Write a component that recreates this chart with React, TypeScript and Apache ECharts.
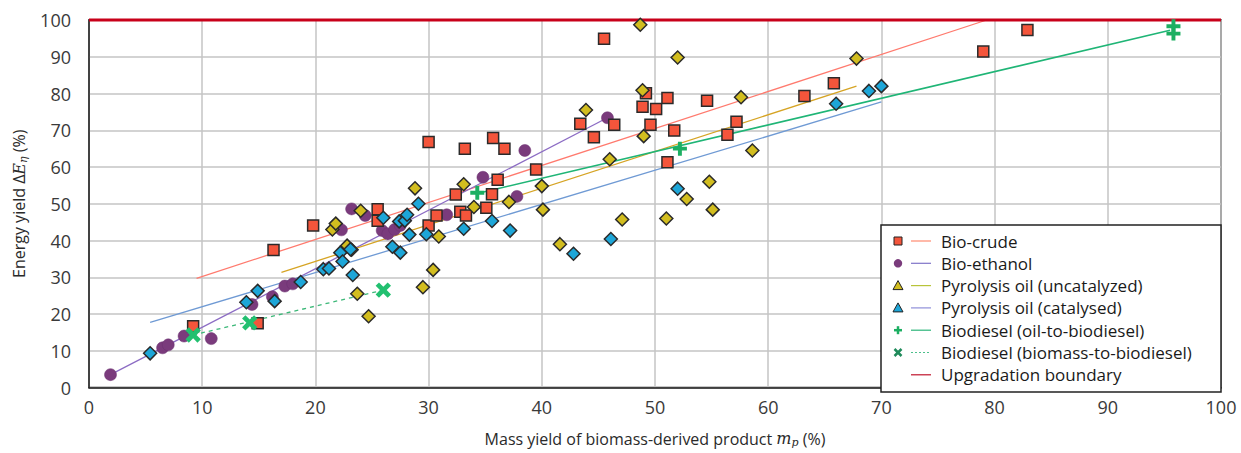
import React, { useEffect, useRef } from "react";
import * as echarts from "echarts";

// ---- data (mass yield %, energy yield %) ----
const bioCrude: number[][] = [
  [9.2, 16.7], [14.9, 17.5], [16.3, 37.4], [19.8, 44.1], [25.5, 48.5], [25.5, 45.4],
  [30, 44.1], [30, 66.8], [30.7, 46.8], [32.4, 52.5], [32.8, 47.8], [33.3, 46.8],
  [33.2, 65], [35.1, 48.9], [35.6, 52.6], [35.7, 67.9], [36.1, 56.5], [36.7, 65],
  [39.5, 59.3], [43.4, 71.8], [44.6, 68.1], [45.5, 94.9], [46.4, 71.5], [48.9, 76.4],
  [49.2, 80.1], [49.6, 71.5], [50.1, 75.8], [51.1, 78.8], [51.1, 61.3], [51.7, 69.9],
  [54.6, 78], [56.4, 68.8], [57.2, 72.3], [63.2, 79.3], [65.8, 82.8], [79, 91.4], [82.9, 97.3],
];
const bioEthanol: number[][] = [
  [1.9, 3.5], [6.5, 10.8], [7, 11.6], [8.4, 14], [10.8, 13.3], [14.4, 22.6], [16.2, 24.7],
  [17.3, 27.6], [18, 28.2], [22.3, 42.9], [23.2, 48.6], [24.4, 46.8], [25.9, 42.7],
  [26.4, 41.8], [27, 43], [27.5, 44.1], [31.6, 47], [34.8, 57.2], [37.8, 52], [38.5, 64.5],
  [45.8, 73.4],
];
const pyroUncat: number[][] = [
  [21.5, 43], [21.8, 44.6], [22.8, 38.6], [23.2, 37.5], [23.7, 25.5], [24, 48.1], [24.7, 19.4],
  [28.8, 54.2], [29.5, 27.3], [30.4, 32], [30.9, 41.1], [33.1, 55.3], [34, 49.1], [37.1, 50.5],
  [40, 54.8], [40.1, 48.4], [41.6, 39], [43.9, 75.5], [46, 62.1], [47.1, 45.7], [48.7, 98.7],
  [48.9, 80.9], [49, 68.4], [51, 46], [52, 89.8], [52.8, 51.3], [54.8, 56], [55.1, 48.4],
  [57.6, 79], [58.6, 64.5], [67.8, 89.5],
];
const pyroCat: number[][] = [
  [5.4, 9.3], [13.9, 23.2], [14.9, 26.3], [16.4, 23.5], [18.7, 28.7], [20.7, 32.2], [21.2, 32.4],
  [22.2, 36.7], [22.4, 34.3], [23.1, 37.6], [23.3, 30.6], [26, 46.2], [26.8, 38.3], [27.5, 36.7],
  [27.4, 45.2], [27.9, 45.4], [28.1, 47], [28.3, 41.6], [29.1, 50], [29.8, 41.7], [33.1, 43.2],
  [35.6, 45.3], [37.2, 42.7], [42.8, 36.4], [46.1, 40.4], [52, 54.1], [66, 77.2], [68.9, 80.7],
  [70, 82],
];
const biodieselOil: number[][] = [[34.3, 53], [52.2, 65], [95.8, 98.3], [95.8, 96.3]];
const biodieselBiomass: number[][] = [[9.2, 14.3], [14.2, 17.6], [26, 26.5]];

// ---- trend lines ----
const bioCrudeTrend: number[][] = [[9.5, 29.7], [79.3, 100]];
const bioEthanolTrend: number[][] = [[1.9, 3.5], [45.8, 73.4]];
const pyroUncatTrend: number[][] = [[17, 31.3], [67.8, 82]];
const pyroCatTrend: number[][] = [[5.4, 17.7], [70, 77.7]];
const biodieselOilTrend: number[][] = [[34.3, 52.8], [95.5, 97.2]];
const biodieselBiomassTrend: number[][] = [[9.2, 14.3], [26, 26.5]];
const upgradationBoundary: number[][] = [[0, 100], [100, 100]];

const legendNames: string[] = [
  "Bio-crude",
  "Bio-ethanol",
  "Pyrolysis oil (uncatalyzed)",
  "Pyrolysis oil (catalysed)",
  "Biodiesel (oil-to-biodiesel)",
  "Biodiesel (biomass-to-biodiesel)",
  "Upgradation boundary",
];

const FONT = "Open Sans";
const PLUS = "path://M3.6,0H6.4V3.6H10V6.4H6.4V10H3.6V6.4H0V3.6H3.6Z";

function buildLegend(): any[] {
  const bx = 881, by = 225, bw = 340, bh = 167;
  const y0 = 241, dy = 22.3;
  const mx = 898, lx1 = 911, lx2 = 931, tx = 941;
  const Z = 100;
  const lineColors = ["#ff8a70", "#7f74c8", "#b8c43a", "#8f8fd8", "#2cb57a", "#4cc08c", "#c0142c"];
  const els: any[] = [
    { type: "rect", z: Z, shape: { x: bx, y: by, width: bw, height: bh }, style: { fill: "#fff", stroke: "#222", lineWidth: 1.5 } },
  ];
  legendNames.forEach((name, i) => {
    const cy = y0 + i * dy;
    els.push({
      type: "line",
      z: Z + 1,
      shape: { x1: lx1, y1: cy, x2: lx2, y2: cy },
      style: { stroke: lineColors[i], lineWidth: 1.2, lineDash: i === 5 ? [2, 2] : null },
    });
    els.push({
      type: "text",
      z: Z + 1,
      style: { text: name, x: tx, y: cy, font: `17px "${FONT}"`, fill: "#1a1a1a", textVerticalAlign: "middle" },
    });
  });
  // markers
  els.push({ type: "rect", z: Z + 2, shape: { x: mx - 4, y: y0 - 4, width: 8, height: 8 }, style: { fill: "#f4553b", stroke: "#222", lineWidth: 1 } });
  els.push({ type: "circle", z: Z + 2, shape: { cx: mx, cy: y0 + dy, r: 4.2 }, style: { fill: "#7a3b7c" } });
  const tri = (cy: number, fill: string) => ({
    type: "polygon",
    z: Z + 2,
    shape: { points: [[mx, cy - 5], [mx + 5, cy + 4], [mx - 5, cy + 4]] },
    style: { fill, stroke: "#222", lineWidth: 1 },
  });
  els.push(tri(y0 + 2 * dy, "#d2bd1f"));
  els.push(tri(y0 + 3 * dy, "#1da6d8"));
  const pc = y0 + 4 * dy;
  els.push({ type: "line", z: Z + 2, shape: { x1: mx - 4, y1: pc, x2: mx + 4, y2: pc }, style: { stroke: "#1caf62", lineWidth: 2.5 } });
  els.push({ type: "line", z: Z + 2, shape: { x1: mx, y1: pc - 4, x2: mx, y2: pc + 4 }, style: { stroke: "#1caf62", lineWidth: 2.5 } });
  const xc = y0 + 5 * dy;
  els.push({ type: "line", z: Z + 2, shape: { x1: mx - 3.5, y1: xc - 3.5, x2: mx + 3.5, y2: xc + 3.5 }, style: { stroke: "#1f8a5a", lineWidth: 2.5 } });
  els.push({ type: "line", z: Z + 2, shape: { x1: mx - 3.5, y1: xc + 3.5, x2: mx + 3.5, y2: xc - 3.5 }, style: { stroke: "#1f8a5a", lineWidth: 2.5 } });
  return els;
}

function trend(name: string, data: number[][], color: string, dashed = false, width = 1.3): any {
  return {
    name,
    type: "line",
    data,
    showSymbol: false,
    symbol: "none",
    z: 2,
    lineStyle: { color, width, type: dashed ? [4, 4] : "solid" },
    silent: true,
  };
}

export default function App() {
  const ref = useRef<HTMLDivElement>(null);
  useEffect(() => {
    document.body.style.margin = "0";
    if (!ref.current) return;
    const chart = echarts.init(ref.current, undefined, { renderer: "svg" });
    const axisLabel = { fontFamily: FONT, fontSize: 18, color: "#3a3a3a" };
    const nameRich = {
      n: { fontFamily: FONT, fontSize: 16, color: "#2a2a2a", lineHeight: 20 },
      i: { fontFamily: "DejaVu Serif", fontStyle: "italic", fontSize: 16, color: "#2a2a2a", lineHeight: 20 },
      s: { fontFamily: "DejaVu Serif", fontStyle: "italic", fontSize: 11, color: "#2a2a2a", padding: [8, 0, 0, 0] },
    };
    chart.setOption({
      animation: false,
      backgroundColor: "#fff",
      grid: { left: 89, right: 20, top: 20, bottom: 61, show: true, borderColor: "#222", borderWidth: 1.5 },
      xAxis: {
        type: "value",
        min: 0,
        max: 100,
        interval: 10,
        name: "{n|Mass yield of biomass-derived product }{i|m}{s|p}{n| (%)}",
        nameLocation: "middle",
        nameGap: 41,
        nameTextStyle: { rich: nameRich },
        axisLine: { lineStyle: { color: "#222", width: 1.5 } },
        axisTick: { show: false },
        axisLabel: { ...axisLabel, margin: 10 },
        splitLine: { show: true, lineStyle: { color: "#c4c4c4", width: 1.5 } },
      },
      yAxis: {
        type: "value",
        min: 0,
        max: 100,
        interval: 10,
        name: "{n|Energy yield Δ}{i|E}{s|η}{n| (%)}",
        nameLocation: "middle",
        nameGap: 60,
        nameRotate: 90,
        nameTextStyle: { rich: nameRich },
        axisLine: { show: true, lineStyle: { color: "#222", width: 1.5 } },
        axisTick: { show: false },
        axisLabel: { ...axisLabel, margin: 18 },
        splitLine: { show: true, lineStyle: { color: "#c4c4c4", width: 1.5 } },
      },
      graphic: buildLegend(),
      series: [
        trend("Bio-crude trend", bioCrudeTrend, "#ff7a6e"),
        trend("Bio-ethanol trend", bioEthanolTrend, "#8c6cc4"),
        trend("Pyrolysis oil (uncatalyzed) trend", pyroUncatTrend, "#d6a424"),
        trend("Pyrolysis oil (catalysed) trend", pyroCatTrend, "#6f9ad4"),
        trend("Biodiesel (oil-to-biodiesel) trend", biodieselOilTrend, "#1fb576", false, 1.6),
        trend("Biodiesel (biomass-to-biodiesel) trend", biodieselBiomassTrend, "#3cb878", true),
        {
          ...trend("Upgradation boundary", upgradationBoundary, "#c8001a", false, 3),
          clip: false,
          z: 3,
        },
        {
          name: "Bio-crude",
          type: "scatter",
          data: bioCrude,
          symbol: "rect",
          symbolSize: 11,
          z: 5,
          itemStyle: { color: "#f4553b", borderColor: "#2a2a2a", borderWidth: 1.5, opacity: 1 },
        },
        {
          name: "Bio-ethanol",
          type: "scatter",
          data: bioEthanol,
          symbol: "circle",
          symbolSize: 12,
          z: 4,
          itemStyle: { color: "#7a3b7c", borderColor: "#6a3070", borderWidth: 0.5, opacity: 1 },
        },
        {
          name: "Pyrolysis oil (uncatalyzed)",
          type: "scatter",
          data: pyroUncat,
          symbol: "diamond",
          symbolSize: 13,
          z: 5,
          itemStyle: { color: "#d2bd1f", borderColor: "#2a2a2a", borderWidth: 1.5, opacity: 1 },
        },
        {
          name: "Pyrolysis oil (catalysed)",
          type: "scatter",
          data: pyroCat,
          symbol: "diamond",
          symbolSize: 13,
          z: 5,
          itemStyle: { color: "#1da6d8", borderColor: "#2a2a2a", borderWidth: 1.5, opacity: 1 },
        },
        {
          name: "Biodiesel (oil-to-biodiesel)",
          type: "scatter",
          data: biodieselOil,
          symbol: PLUS,
          symbolSize: 14,
          z: 6,
          itemStyle: { color: "#1caf62", opacity: 1 },
        },
        {
          name: "Biodiesel (biomass-to-biodiesel)",
          type: "scatter",
          data: biodieselBiomass,
          symbol: PLUS,
          symbolRotate: 45,
          symbolSize: 17,
          z: 6,
          itemStyle: { color: "#22c070", opacity: 1 },
        },
      ],
    });
    return () => chart.dispose();
  }, []);
  return <div ref={ref} style={{ width: 1241, height: 453 }} />;
}
